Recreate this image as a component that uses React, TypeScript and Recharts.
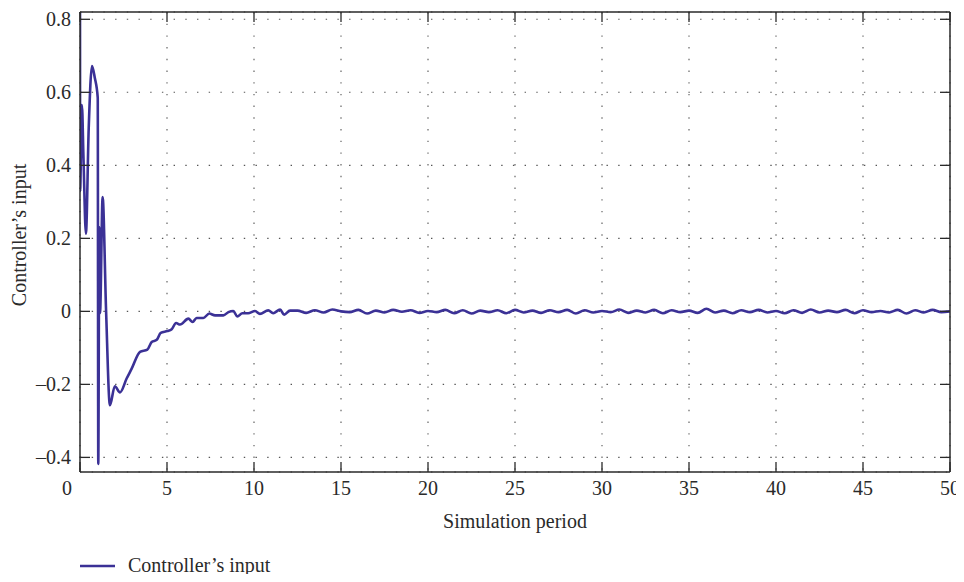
import React from "react";
import { LineChart, Line, XAxis, YAxis, CartesianGrid, Legend } from "recharts";

const timeValues: number[] = [
  0, 0.005, 0.11, 0.2, 0.34, 0.5, 0.69, 0.85, 1.02, 1.05, 1.11, 1.15, 1.3, 1.5, 1.72, 2.0, 2.3, 2.68,
  2.97, 3.45, 3.87, 4.12, 4.41, 4.64, 5.02, 5.27, 5.52, 5.75, 6.23, 6.47, 6.7, 7.09, 7.43, 7.76, 8.24,
  8.53, 8.81, 9.04, 9.33, 9.66, 10.06, 10.34, 10.82, 11.1, 11.5, 11.73, 12.07,
  12.5, 13, 13.5, 14, 14.5, 15, 15.5, 16, 16.5, 17, 17.5, 18, 18.5, 19, 19.5, 20, 20.5, 21, 21.5, 22,
  22.5, 23, 23.5, 24, 24.5, 25, 25.5, 26, 26.5, 27, 27.5, 28, 28.5, 29, 29.5, 30, 30.5, 31, 31.5, 32,
  32.5, 33, 33.5, 34, 34.5, 35, 35.5, 36, 36.5, 37, 37.5, 38, 38.5, 39, 39.5, 40, 40.5, 41, 41.5, 42,
  42.5, 43, 43.5, 44, 44.5, 45, 45.5, 46, 46.5, 47, 47.5, 48, 48.5, 49, 49.5, 50,
];

const inputValues: number[] = [
  0.84, 0.33, 0.565, 0.42, 0.213, 0.5, 0.672, 0.64, 0.585, -0.418, 0.23, -0.005, 0.313, 0.0, -0.257,
  -0.205, -0.222, -0.184, -0.157, -0.111, -0.105, -0.084, -0.078, -0.059, -0.054, -0.049, -0.032,
  -0.036, -0.02, -0.029, -0.018, -0.018, -0.006, -0.011, -0.011, -0.002, 0.001, -0.014, -0.005,
  -0.005, 0.001, -0.007, 0.003, -0.005, 0.005, -0.009, 0.002,
  0.002, -0.004, 0.003, -0.003, 0.005, 0.0, -0.002, 0.004, -0.006, 0.002, -0.003, 0.004, -0.001,
  0.003, -0.004, 0.001, -0.002, 0.004, -0.005, 0.003, -0.006, 0.002, -0.002, 0.003, -0.005, 0.004,
  -0.003, 0.002, -0.004, 0.003, -0.002, 0.004, -0.006, 0.003, -0.003, 0.001, -0.002, 0.005, -0.004,
  0.002, -0.003, 0.004, -0.005, 0.003, -0.002, 0.002, -0.004, 0.007, -0.003, 0.002, -0.005, 0.003,
  -0.002, 0.004, -0.003, 0.001, -0.005, 0.003, -0.004, 0.005, -0.003, 0.002, -0.002, 0.004, -0.005,
  0.003, -0.002, 0.001, -0.003, 0.004, -0.006, 0.003, -0.003, 0.004, -0.002, 0.0,
];

const xTicks: number[] = [0, 5, 10, 15, 20, 25, 30, 35, 40, 45, 50];
const yTicks: number[] = [-0.4, -0.2, 0, 0.2, 0.4, 0.6, 0.8];
const seriesName = "Controller’s input";
const xLabel = "Simulation period";
const yLabel = "Controller’s input";

const data = timeValues.map((t, i) => ({ t, v: inputValues[i] }));

const FONT = "'Liberation Serif', 'DejaVu Serif', serif";
const TEXT = "#2a2a2a";
const AXIS = "#2a2a2a";
const LINE = "#3b3196";
const FS = 20;

const fmtY = (v: number) => {
  if (Math.abs(v) < 1e-9) return "0";
  const s = Math.abs(v).toFixed(1);
  return v < 0 ? "–" + s : s;
};

const BottomTick = (props: any) => {
  const { x, y, payload } = props;
  const dx = payload.value === 0 ? -13 : 0;
  return (
    <g>
      <line x1={x} x2={x} y1={y} y2={y - 10} stroke={AXIS} strokeWidth={1.3} />
      <text x={x + dx} y={y + 23} textAnchor="middle" fontFamily={FONT} fontSize={FS} fill={TEXT}>
        {payload.value}
      </text>
    </g>
  );
};

const TopTick = (props: any) => {
  const { x, y } = props;
  return <line x1={x} x2={x} y1={y} y2={y + 10} stroke={AXIS} strokeWidth={1.3} />;
};

const LeftTick = (props: any) => {
  const { x, y, payload } = props;
  return (
    <g>
      <line x1={x} x2={x + 10} y1={y} y2={y} stroke={AXIS} strokeWidth={1.3} />
      <text x={x - 9} y={y} dy="0.35em" textAnchor="end" fontFamily={FONT} fontSize={FS} fill={TEXT}>
        {fmtY(payload.value)}
      </text>
    </g>
  );
};

const RightTick = (props: any) => {
  const { x, y } = props;
  return <line x1={x - 10} x2={x} y1={y} y2={y} stroke={AXIS} strokeWidth={1.3} />;
};

const XLabel = (props: any) => {
  const vb = props.viewBox || {};
  return (
    <text x={vb.x + vb.width / 2} y={vb.y + 56} textAnchor="middle" fontFamily={FONT} fontSize={FS} fill={TEXT}>
      {xLabel}
    </text>
  );
};

const YLabel = () => (
  <text
    x={18}
    y={227}
    transform="rotate(-90, 18, 227)"
    textAnchor="middle"
    fontFamily={FONT}
    fontSize={FS}
    fill={TEXT}
  >
    {yLabel}
  </text>
);

const LegendContent = () => (
  <div style={{ display: "flex", alignItems: "center", fontFamily: FONT, fontSize: FS, color: TEXT }}>
    <svg width={48} height={10} style={{ display: "block" }}>
      <line x1={0} x2={35} y1={5} y2={5} stroke={LINE} strokeWidth={2.6} />
    </svg>
    <span>{seriesName}</span>
  </div>
);

export default function App() {
  return (
    <div style={{ width: 956, height: 566, position: "relative" }}>
      <LineChart
        width={956}
        height={566}
        data={data}
        margin={{ top: 3, right: 13, bottom: 42, left: 0 }}
        style={{ overflow: "visible" }}
      >
        <CartesianGrid stroke="#555" strokeDasharray="1.4 10.3" strokeWidth={1.1} />
        <XAxis
          dataKey="t"
          type="number"
          domain={[0, 50]}
          ticks={xTicks}
          allowDataOverflow
          height={60}
          tickSize={0}
          tickMargin={0}
          tickLine={false}
          axisLine={{ stroke: AXIS, strokeWidth: 1.5 }}
          tick={<BottomTick />}
          interval={0}
          label={<XLabel />}
        />
        <XAxis
          xAxisId="top"
          orientation="top"
          dataKey="t"
          type="number"
          domain={[0, 50]}
          ticks={xTicks}
          height={1}
          tickSize={0}
          tickMargin={0}
          tickLine={false}
          axisLine={{ stroke: AXIS, strokeWidth: 1.5 }}
          tick={<TopTick />}
          interval={0}
        />
        <YAxis
          type="number"
          domain={[-0.44, 0.82]}
          ticks={yTicks}
          allowDataOverflow
          width={72}
          tickSize={0}
          tickMargin={0}
          tickLine={false}
          axisLine={{ stroke: AXIS, strokeWidth: 1.5 }}
          tick={<LeftTick />}
          interval={0}
          label={<YLabel />}
        />
        <YAxis
          yAxisId="right"
          orientation="right"
          type="number"
          domain={[-0.44, 0.82]}
          ticks={yTicks}
          allowDataOverflow
          width={1}
          tickSize={0}
          tickMargin={0}
          tickLine={false}
          axisLine={{ stroke: AXIS, strokeWidth: 1.5 }}
          tick={<RightTick />}
          interval={0}
        />
        <Legend
          layout="horizontal"
          verticalAlign="middle"
          align="center"
          content={<LegendContent />}
          wrapperStyle={{ position: "absolute", left: 72, top: 546, width: "auto", height: "auto", bottom: "auto" }}
        />
        <Line
          type="monotone"
          dataKey="v"
          stroke={LINE}
          strokeWidth={2.6}
          dot={false}
          activeDot={false}
          isAnimationActive={false}
          name={seriesName}
        />
      </LineChart>
    </div>
  );
}
